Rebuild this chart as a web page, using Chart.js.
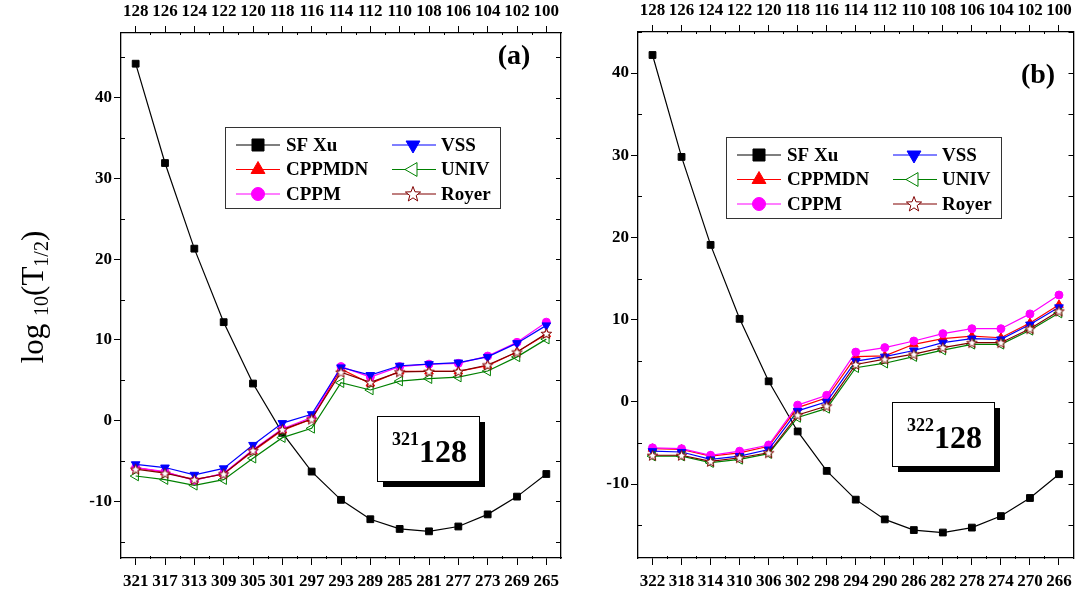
<!DOCTYPE html>
<html>
<head>
<meta charset="utf-8">
<script src="https://cdn.jsdelivr.net/npm/chart.js@4.4.1/dist/chart.umd.min.js"></script>
<style>
  body { margin: 0; background: #fff; }
  #wrap { position: relative; width: 1080px; height: 594px; }
  #chartA { position: absolute; left: 0; top: 0; }
  #chartB { position: absolute; left: 580px; top: 0; }
</style>
</head>
<body>
<div id="wrap">
  <canvas id="chartA" width="580" height="594"></canvas>
  <canvas id="chartB" width="500" height="594"></canvas>
</div>
<script>
// mass numbers (bottom axis) and proton numbers (top axis)
const massA = [321, 317, 313, 309, 305, 301, 297, 293, 289, 285, 281, 277, 273, 269, 265];
const massB = [322, 318, 314, 310, 306, 302, 298, 294, 290, 286, 282, 278, 274, 270, 266];
const protonZ = [128, 126, 124, 122, 120, 118, 116, 114, 112, 110, 108, 106, 104, 102, 100];
const yTicks = [-10, 0, 10, 20, 30, 40];

// panel (a) 321-128 chain, log10(T1/2)
const sfXuA   = [44.2, 31.9, 21.3, 12.2, 4.6, -1.5, -6.3, -9.8, -12.2, -13.4, -13.7, -13.1, -11.6, -9.4, -6.6];
const cppmdnA = [-5.8, -6.4, -7.3, -6.6, -3.8, -1.2, 0.2, 6.4, 4.6, 6.1, 6.1, 6.1, 6.8, 8.5, 10.7];
const cppmA   = [-5.8, -6.3, -7.4, -6.5, -3.6, -1.0, 0.4, 6.7, 5.4, 6.7, 7.0, 7.1, 8.0, 9.7, 12.2];
const vssA    = [-5.4, -5.8, -6.7, -5.9, -3.0, -0.3, 0.8, 6.6, 5.65, 6.8, 7.0, 7.2, 7.9, 9.6, 11.8];
const univA   = [-6.85, -7.3, -8.0, -7.3, -4.65, -2.1, -0.95, 4.7, 3.8, 4.9, 5.2, 5.4, 6.15, 7.9, 10.1];
const royerA  = [-6.0, -6.5, -7.3, -6.6, -3.7, -1.1, 0.2, 6.0, 4.75, 6.05, 6.1, 6.1, 6.9, 8.5, 10.8];

// panel (b) 322-128 chain
const sfXuB   = [42.2, 29.8, 19.1, 10.1, 2.5, -3.6, -8.4, -11.9, -14.3, -15.6, -15.9, -15.3, -13.9, -11.7, -8.8];
const cppmdnB = [-5.7, -5.8, -6.6, -6.2, -5.4, -0.7, 0.5, 5.5, 5.6, 7.0, 7.7, 8.0, 7.8, 9.6, 11.8];
const cppmB   = [-5.6, -5.7, -6.5, -6.0, -5.25, -0.4, 0.8, 6.05, 6.6, 7.4, 8.3, 8.9, 8.9, 10.7, 13.0];
const vssB    = [-6.0, -6.1, -7.0, -6.6, -5.8, -1.1, 0.0, 4.95, 5.5, 6.25, 7.2, 7.7, 7.6, 9.4, 11.5];
const univB   = [-6.6, -6.6, -7.4, -7.0, -6.3, -1.9, -0.8, 4.15, 4.7, 5.5, 6.3, 7.0, 7.0, 8.7, 10.8];
const royerB  = [-6.5, -6.5, -7.25, -6.8, -6.2, -1.6, -0.5, 4.55, 5.2, 5.8, 6.6, 7.2, 7.2, 8.9, 11.05];

const SERIF = "'Liberation Serif', 'Times New Roman', serif";

function starCanvas(size, r) {
  const c = document.createElement('canvas');
  c.width = size; c.height = size;
  const g = c.getContext('2d');
  g.beginPath();
  for (let i = 0; i < 10; i++) {
    const rr = i % 2 ? r * 0.42 : r;
    const a = -Math.PI / 2 + i * Math.PI / 5;
    g.lineTo(size / 2 + rr * Math.cos(a), size / 2 + 0.5 + rr * Math.sin(a));
  }
  g.closePath();
  g.fillStyle = '#fff';
  g.fill();
  g.strokeStyle = '#800000';
  g.lineWidth = 1;
  g.stroke();
  return c;
}
const starSmall = starCanvas(13, 5.5);
const starBig = starCanvas(18, 8);

const styles = {
  sfxu:   { label: 'SF Xu',  color: '#000000', fill: '#000000', pointStyle: 'rect', rotation: 0, radius: 4.8, legendRadius: 8.5 },
  cppmdn: { label: 'CPPMDN', color: '#ff0000', fill: '#ff0000', pointStyle: 'triangle', rotation: 0, radius: 5, legendRadius: 8 },
  cppm:   { label: 'CPPM',   color: '#ff00ff', fill: '#ff00ff', pointStyle: 'circle', rotation: 0, radius: 4, legendRadius: 6.5 },
  vss:    { label: 'VSS',    color: '#0000ff', fill: '#0000ff', pointStyle: 'triangle', rotation: 180, radius: 5, legendRadius: 8 },
  univ:   { label: 'UNIV',   color: '#008000', fill: 'rgba(255,255,255,0)', pointStyle: 'triangle', rotation: -90, radius: 5.5, legendRadius: 8 },
  royer:  { label: 'Royer',  color: '#800000', fill: '#ffffff', pointStyle: starSmall, rotation: 0, radius: 5, legendRadius: 8, legendStyle: starBig }
};

function series(key, mass, vals, order) {
  const s = styles[key];
  return {
    label: s.label,
    data: mass.map((m, i) => ({ x: m, y: vals[i] })),
    borderColor: s.color,
    backgroundColor: s.fill,
    pointBackgroundColor: s.fill,
    pointBorderColor: s.color,
    pointStyle: s.pointStyle,
    rotation: s.rotation,
    pointRadius: s.radius,
    pointBorderWidth: 1,
    borderWidth: 1.2,
    tension: 0,
    order: order
  };
}

const legendCols = [['sfxu', 'cppmdn', 'cppm'], ['vss', 'univ', 'royer']];

const decor = {
  id: 'decor',
  afterDraw(chart, args, o) {
    const ctx = chart.ctx;
    const xs = chart.scales.x, ys = chart.scales.y;
    const area = chart.chartArea;
    ctx.save();
    ctx.strokeStyle = '#000';
    ctx.lineWidth = 1;
    // minor ticks on bottom and top axes
    ctx.beginPath();
    o.mass.slice(1).forEach(m => {
      const px = Math.round(xs.getPixelForValue(m + 2)) + 0.5;
      ctx.moveTo(px, area.bottom - 2); ctx.lineTo(px, area.bottom + 1);
      ctx.moveTo(px, area.top - 1); ctx.lineTo(px, area.top + 2);
    });
    // y minor ticks (left) and all ticks on the right edge, pointing inward
    for (let v = Math.ceil(ys.min / 5) * 5; v <= ys.max; v += 5) {
      const py = Math.round(ys.getPixelForValue(v)) + 0.5;
      if (v % 10 !== 0) { ctx.moveTo(area.left, py); ctx.lineTo(area.left + 4, py); }
      ctx.moveTo(area.right, py); ctx.lineTo(area.right - 5, py);
    }
    ctx.stroke();

    // legend
    const L = o.legend;
    ctx.strokeStyle = '#333';
    ctx.lineWidth = 1;
    ctx.strokeRect(L.x + 0.5, L.y + 0.5, 275, 81);
    const rows = [18, 42.5, 67];
    const cols = [{ l: 11, m: 33, t: 61 }, { l: 167, m: 188, t: 216 }];
    ctx.font = 'bold 19px ' + SERIF;
    ctx.textBaseline = 'middle';
    ctx.textAlign = 'left';
    legendCols.forEach((col, ci) => {
      col.forEach((key, ri) => {
        const s = styles[key];
        const y = L.y + rows[ri];
        const c = cols[ci];
        ctx.strokeStyle = s.color;
        ctx.lineWidth = 1.2;
        ctx.beginPath();
        ctx.moveTo(L.x + c.l, y); ctx.lineTo(L.x + c.l + 44, y);
        ctx.stroke();
        ctx.fillStyle = key === 'univ' ? '#fff' : s.fill;
        ctx.lineWidth = 1;
        Chart.helpers.drawPoint(ctx, {
          pointStyle: s.legendStyle || s.pointStyle,
          rotation: s.rotation,
          radius: s.legendRadius,
          borderWidth: 1
        }, L.x + c.m, y);
        ctx.fillStyle = '#000';
        ctx.fillText(s.label, L.x + c.t, y + 1);
      });
    });

    // nucleus label box with drop shadow
    const N = o.nucleus;
    ctx.fillStyle = '#000';
    ctx.fillRect(N.x + 6, N.y + 6, N.w, N.h);
    ctx.fillStyle = '#fff';
    ctx.fillRect(N.x, N.y, N.w, N.h);
    ctx.strokeStyle = '#000';
    ctx.lineWidth = 1;
    ctx.strokeRect(N.x + 0.5, N.y + 0.5, N.w, N.h);
    ctx.fillStyle = '#000';
    ctx.textBaseline = 'alphabetic';
    ctx.font = 'bold 18px ' + SERIF;
    ctx.fillText(N.mass, N.x + 15, N.y + 29);
    const sw = ctx.measureText(N.mass).width;
    ctx.font = 'bold 32px ' + SERIF;
    ctx.fillText(N.z, N.x + 15 + sw, N.y + 46);

    // panel tag
    ctx.font = 'bold 28px ' + SERIF;
    ctx.textAlign = 'center';
    ctx.fillText(o.tag.text, o.tag.x, o.tag.y);

    // y axis title
    if (o.title) {
      ctx.translate(33, 297);
      ctx.rotate(-Math.PI / 2);
      const parts = [
        { t: 'log ', f: '31px', dy: 10 },
        { t: '10', f: '20px', dy: 15 },
        { t: '(T', f: '31px', dy: 10 },
        { t: '1/2', f: '20px', dy: 15 },
        { t: ')', f: '31px', dy: 10 }
      ];
      let total = 0;
      parts.forEach(p => { ctx.font = p.f + ' ' + SERIF; p.w = ctx.measureText(p.t).width; total += p.w; });
      let x = -total / 2;
      ctx.textAlign = 'left';
      parts.forEach(p => {
        ctx.font = p.f + ' ' + SERIF;
        ctx.fillText(p.t, x, p.dy);
        x += p.w;
      });
    }
    ctx.restore();
  }
};

function makePanel(id, mass, vals, ymin, ymax, pad, leftW, topH, deco) {
  const xmin = mass[mass.length - 1] - 2, xmax = mass[0] + 2;
  const tickFont = { family: SERIF, weight: 'bold', size: 17 };
  const xAxis = (pos) => ({
    type: 'linear',
    position: pos,
    reverse: true,
    min: xmin,
    max: xmax,
    afterBuildTicks: s => { s.ticks = mass.map(v => ({ value: v })); },
    afterFit: s => { s.height = pos === 'top' ? topH : 36; },
    ticks: {
      font: tickFont,
      color: '#000',
      padding: pos === 'top' ? 4 : 6,
      maxRotation: 0,
      autoSkip: false,
      callback: (v, i) => pos === 'top' ? String(protonZ[i]) : String(v)
    },
    grid: { drawOnChartArea: false, tickLength: 7, color: '#000', lineWidth: 1 },
    border: { display: true, color: '#000', width: 1.3 }
  });
  return new Chart(document.getElementById(id), {
    type: 'line',
    data: {
      datasets: [
        series('royer', mass, vals.royer, 1),
        series('univ', mass, vals.univ, 2),
        series('vss', mass, vals.vss, 3),
        series('cppm', mass, vals.cppm, 4),
        series('cppmdn', mass, vals.cppmdn, 5),
        series('sfxu', mass, vals.sfxu, 6)
      ]
    },
    options: {
      responsive: false,
      animation: false,
      layout: { padding: { left: 0, right: pad, top: 0, bottom: 0 } },
      plugins: {
        legend: { display: false },
        tooltip: { enabled: false },
        decor: deco
      },
      scales: {
        x: xAxis('bottom'),
        x2: xAxis('top'),
        y: {
          type: 'linear',
          min: ymin,
          max: ymax,
          afterBuildTicks: s => { s.ticks = yTicks.map(v => ({ value: v })); },
          afterFit: s => { s.width = leftW; },
          ticks: { font: tickFont, color: '#000', padding: 2, callback: v => String(v) },
          grid: { drawOnChartArea: false, tickLength: 7, color: '#000', lineWidth: 1 },
          border: { display: true, color: '#000', width: 1.3 }
        },
        y2: {
          type: 'linear',
          position: 'right',
          min: ymin,
          max: ymax,
          afterFit: s => { s.width = 0; },
          ticks: { display: false },
          grid: { display: false },
          border: { display: true, color: '#000', width: 1.3 }
        }
      }
    },
    plugins: [decor]
  });
}

makePanel('chartA', massA,
  { sfxu: sfXuA, cppmdn: cppmdnA, cppm: cppmA, vss: vssA, univ: univA, royer: royerA },
  -17, 48, 19, 121, 33, {
    mass: massA,
    title: true,
    legend: { x: 225, y: 127 },
    nucleus: { x: 377, y: 416, w: 102, h: 65, mass: '321', z: '128' },
    tag: { text: '(a)', x: 514, y: 64 }
  });

makePanel('chartB', massB,
  { sfxu: sfXuB, cppmdn: cppmdnB, cppm: cppmB, vss: vssB, univ: univB, royer: royerB },
  -19, 45, 2, 58, 32, {
    mass: massB,
    title: false,
    legend: { x: 146, y: 137 },
    nucleus: { x: 312, y: 402, w: 102, h: 64, mass: '322', z: '128' },
    tag: { text: '(b)', x: 458, y: 83 }
  });
</script>
</body>
</html>
